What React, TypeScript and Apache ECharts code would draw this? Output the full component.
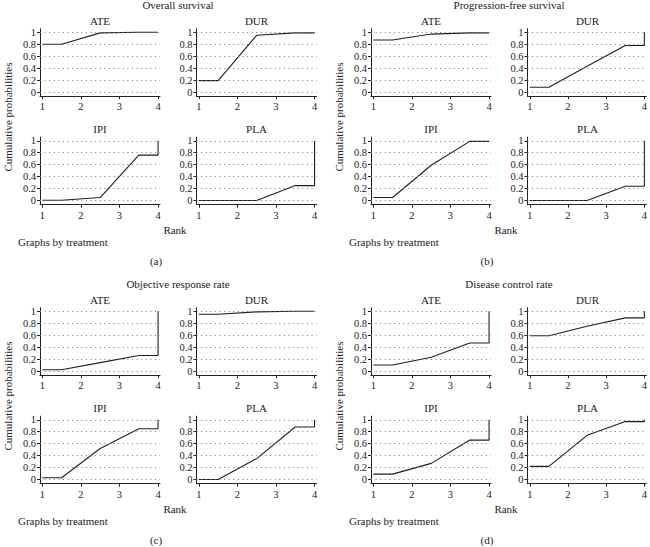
import React, { useEffect, useRef } from "react";
import * as echarts from "echarts";

// ---------- data ----------
const PANEL_TITLES = [
  "Overall survival",
  "Progression-free survival",
  "Objective response rate",
  "Disease control rate",
];
const PANEL_TAGS = ["(a)", "(b)", "(c)", "(d)"];
const TREATMENTS = ["ATE", "DUR", "IPI", "PLA"];
const RANK_TICKS = [1, 2, 3, 4];
const PROB_TICKS = [0, 0.2, 0.4, 0.6, 0.8, 1];

// cumulative probabilities at rank 1, 2, 3, 4
const OS_ATE = [0.8, 0.99, 1.0, 1];
const OS_DUR = [0.19, 0.95, 0.99, 1];
const OS_IPI = [0.005, 0.05, 0.76, 1];
const OS_PLA = [0.0, 0.0, 0.25, 1];

const PFS_ATE = [0.87, 0.97, 0.99, 1];
const PFS_DUR = [0.08, 0.43, 0.78, 1];
const PFS_IPI = [0.05, 0.59, 0.99, 1];
const PFS_PLA = [0.0, 0.0, 0.24, 1];

const ORR_ATE = [0.02, 0.14, 0.26, 1];
const ORR_DUR = [0.95, 0.99, 1.0, 1];
const ORR_IPI = [0.03, 0.52, 0.85, 1];
const ORR_PLA = [0.0, 0.35, 0.88, 1];

const DCR_ATE = [0.1, 0.23, 0.47, 1];
const DCR_DUR = [0.59, 0.75, 0.89, 1];
const DCR_IPI = [0.09, 0.27, 0.66, 1];
const DCR_PLA = [0.22, 0.74, 0.97, 1];

const PANELS = [
  [OS_ATE, OS_DUR, OS_IPI, OS_PLA],
  [PFS_ATE, PFS_DUR, PFS_IPI, PFS_PLA],
  [ORR_ATE, ORR_DUR, ORR_IPI, ORR_PLA],
  [DCR_ATE, DCR_DUR, DCR_IPI, DCR_PLA],
];

// ---------- layout ----------
const W = 650;
const H = 547;
const PANEL_OFFSETS = [
  [0, 0],
  [331, 0],
  [0, 279],
  [331, 279],
];
const COL_LEFT = [40, 196.5];
const COL_W = 120;
const ROW_TOP = [28.7, 137.2];
const ROW_H = 67.5;
const FONT = '"Liberation Serif", "DejaVu Serif", serif';
const TXT = "#222";

function stepPoints(c: number[]) {
  // Stata rank-o-gram vertices: flat start, midpoints between ranks, flat end, closing vertical
  return [
    [1, c[0]],
    [1.5, c[0]],
    [2.5, c[1]],
    [3.5, c[2]],
    [4, c[2]],
    [4, c[3]],
  ];
}

function buildOption() {
  const grid: any[] = [];
  const xAxis: any[] = [];
  const yAxis: any[] = [];
  const series: any[] = [];
  const graphic: any[] = [];

  const text = (x: number, y: number, t: string, size: number, align = "center", extra: any = {}) => ({
    type: "text",
    x,
    y,
    ...extra,
    style: {
      text: t,
      fontSize: size,
      fontFamily: FONT,
      fill: TXT,
      align,
      verticalAlign: "middle",
      textAlign: align,
      textVerticalAlign: "middle",
    },
  });

  PANELS.forEach((panel, p) => {
    const [ox, oy] = PANEL_OFFSETS[p];
    graphic.push(text(ox + 178, oy + 5, PANEL_TITLES[p], 11));
    graphic.push(text(ox + 175, oy + 230, "Rank", 11));
    graphic.push(text(ox + 18, oy + 242, "Graphs by treatment", 11, "left"));
    graphic.push(text(ox + 156, oy + 261, PANEL_TAGS[p], 11));
    graphic.push(
      text(ox + 7.5, oy + 117, "Cumulative probabilities", 11, "center", { rotation: Math.PI / 2 })
    );

    panel.forEach((cum, k) => {
      const idx = p * 4 + k;
      const col = k % 2;
      const row = Math.floor(k / 2);
      const left = ox + COL_LEFT[col];
      const top = oy + ROW_TOP[row];
      grid.push({ left, top, width: COL_W, height: ROW_H, containLabel: false });
      graphic.push(text(left + COL_W / 2, top - 8, TREATMENTS[k], 11));

      xAxis.push({
        type: "value",
        gridIndex: idx,
        min: 0.94,
        max: 4.05,
        axisLine: { show: true, onZero: false, lineStyle: { color: "#222", width: 1 } },
        axisTick: { show: true, length: 3, customValues: RANK_TICKS, lineStyle: { color: "#222" } },
        axisLabel: {
          customValues: RANK_TICKS,
          margin: 5,
          fontSize: 10.5,
          fontFamily: FONT,
          color: TXT,
          formatter: (v: number) => String(v),
        },
        splitLine: { show: false },
      });
      yAxis.push({
        type: "value",
        gridIndex: idx,
        min: -0.07,
        max: 1.06,
        axisLine: { show: true, onZero: false, lineStyle: { color: "#222", width: 1 } },
        axisTick: { show: true, length: 3, customValues: PROB_TICKS, lineStyle: { color: "#222" } },
        axisLabel: {
          customValues: PROB_TICKS,
          margin: 4,
          fontSize: 10.5,
          fontFamily: FONT,
          color: TXT,
          formatter: (v: number) => String(v),
        },
        splitLine: { show: false },
      });
      series.push({
        type: "line",
        xAxisIndex: idx,
        yAxisIndex: idx,
        data: stepPoints(cum),
        symbol: "none",
        showSymbol: false,
        silent: true,
        lineStyle: { color: "#1f1f1f", width: 1.1 },
        markLine: {
          silent: true,
          symbol: ["none", "none"],
          label: { show: false },
          lineStyle: { type: [1, 3.6], color: "#777", width: 1 },
          emphasis: { disabled: true },
          data: PROB_TICKS.map((v) => ({ yAxis: v })),
        },
      });
    });
  });

  return {
    animation: false,
    backgroundColor: "#fff",
    grid,
    xAxis,
    yAxis,
    series,
    graphic,
  };
}

export default function App() {
  const ref = useRef<HTMLDivElement>(null);
  useEffect(() => {
    if (!ref.current) return;
    const chart = echarts.init(ref.current, undefined, { renderer: "svg", width: W, height: H });
    chart.setOption(buildOption() as any);
    return () => chart.dispose();
  }, []);
  return (
    <div
      ref={ref}
      style={{ position: "fixed", left: 0, top: 0, width: W, height: H, background: "#fff" }}
    />
  );
}
